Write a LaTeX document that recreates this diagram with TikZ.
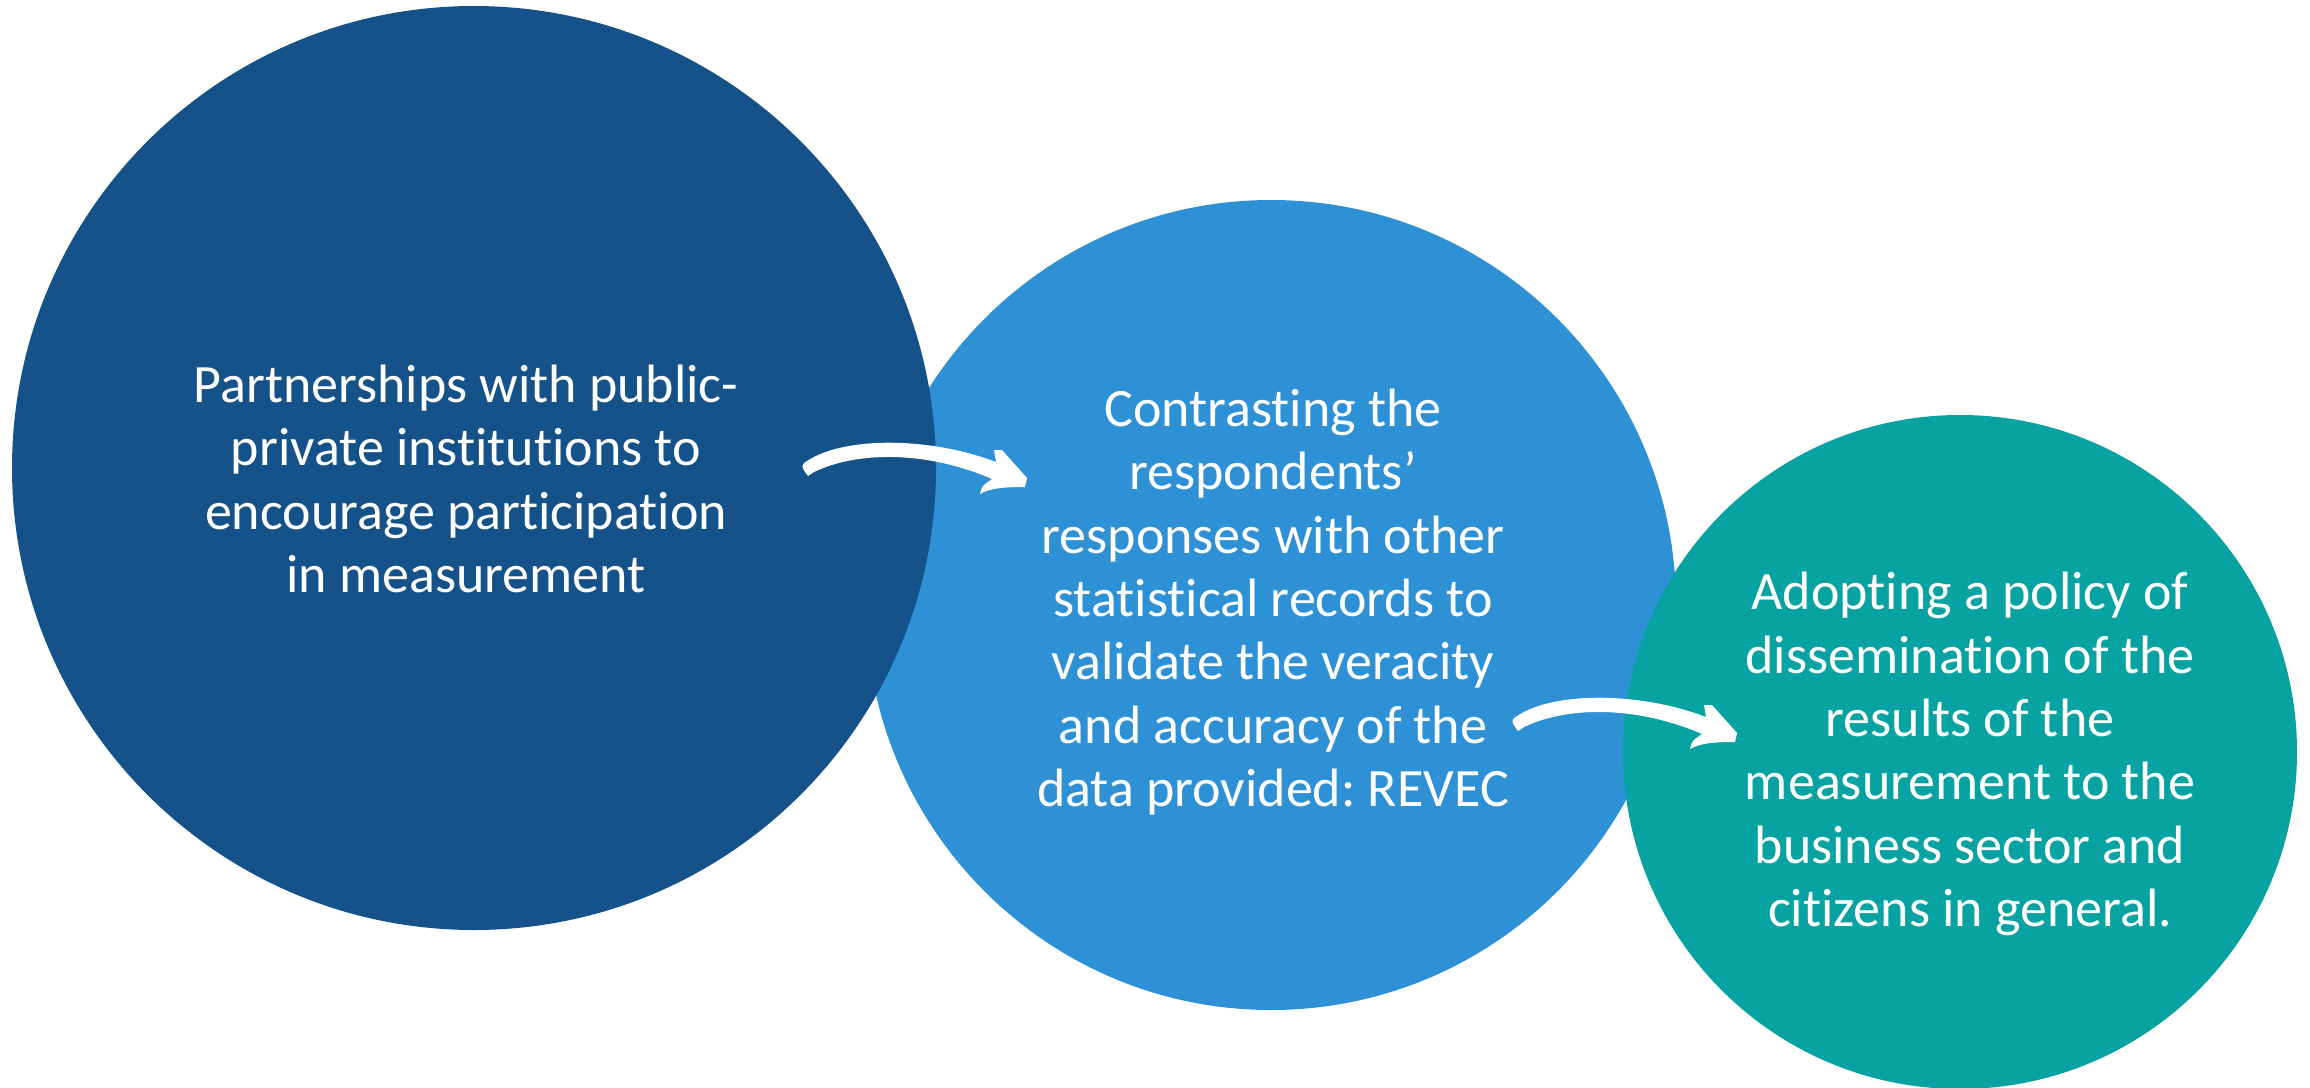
\documentclass[tikz,border=0pt]{standalone}
\usepackage{fontspec}
\setmainfont[Ligatures=NoCommon]{Carlito}
\frenchspacing
\definecolor{cdark}{RGB}{22,82,138}
\definecolor{cmid}{RGB}{47,145,213}
\definecolor{cteal}{RGB}{6,163,162}
\tikzset{
  bubble/.style={circle, inner sep=0pt, draw=none},
  bubbletext/.style={text=white, align=center, font=\fontsize{27}{31.7}\selectfont, inner sep=0pt},
  brusharrow/.pic={
    \fill[white] (808,476)
      .. controls (800,465) .. (812,458)
      .. controls (850,437) and (930,437) .. (996,462)
      -- (994,450) -- (1002,450) -- (1027,478) -- (1025,487)
      .. controls (1005,487) and (990,488) .. (980,494)
      .. controls (982,486) .. (992,479)
      .. controls (930,452) and (860,450) .. (814,472)
      -- cycle;
  }
}
\begin{document}
\begin{tikzpicture}[x=0.5pt,y=-0.5pt]
\useasboundingbox (0,0) rectangle (2310,1087);
\clip (0,0) rectangle (2310,1087);
% circles
\node[bubble, fill=cmid, minimum size=405pt] (c2) at (1271,605) {};
\node[bubble, fill=cdark, minimum size=462pt] (c1) at (474,468) {};
\node[bubble, fill=cteal, minimum size=337pt] (c3) at (1960,752) {};
% arrows
\pic at (0,0) {brusharrow};
\pic at (710,255) {brusharrow};
% texts
\node[bubbletext] (t1) at (466,479) {Partnerships with public-\\private institutions to\\encourage participation\\in measurement};
\node[bubbletext] (t2) at (1273,602) {Contrasting the\\respondents’\\responses with other\\statistical records to\\validate the veracity\\and accuracy of the\\data provided: REVEC};
\node[bubbletext] (t3) at (1970,754) {Adopting a policy of\\dissemination of the\\results of the\\measurement to the\\business sector and\\citizens in general.};
\end{tikzpicture}
\end{document}
